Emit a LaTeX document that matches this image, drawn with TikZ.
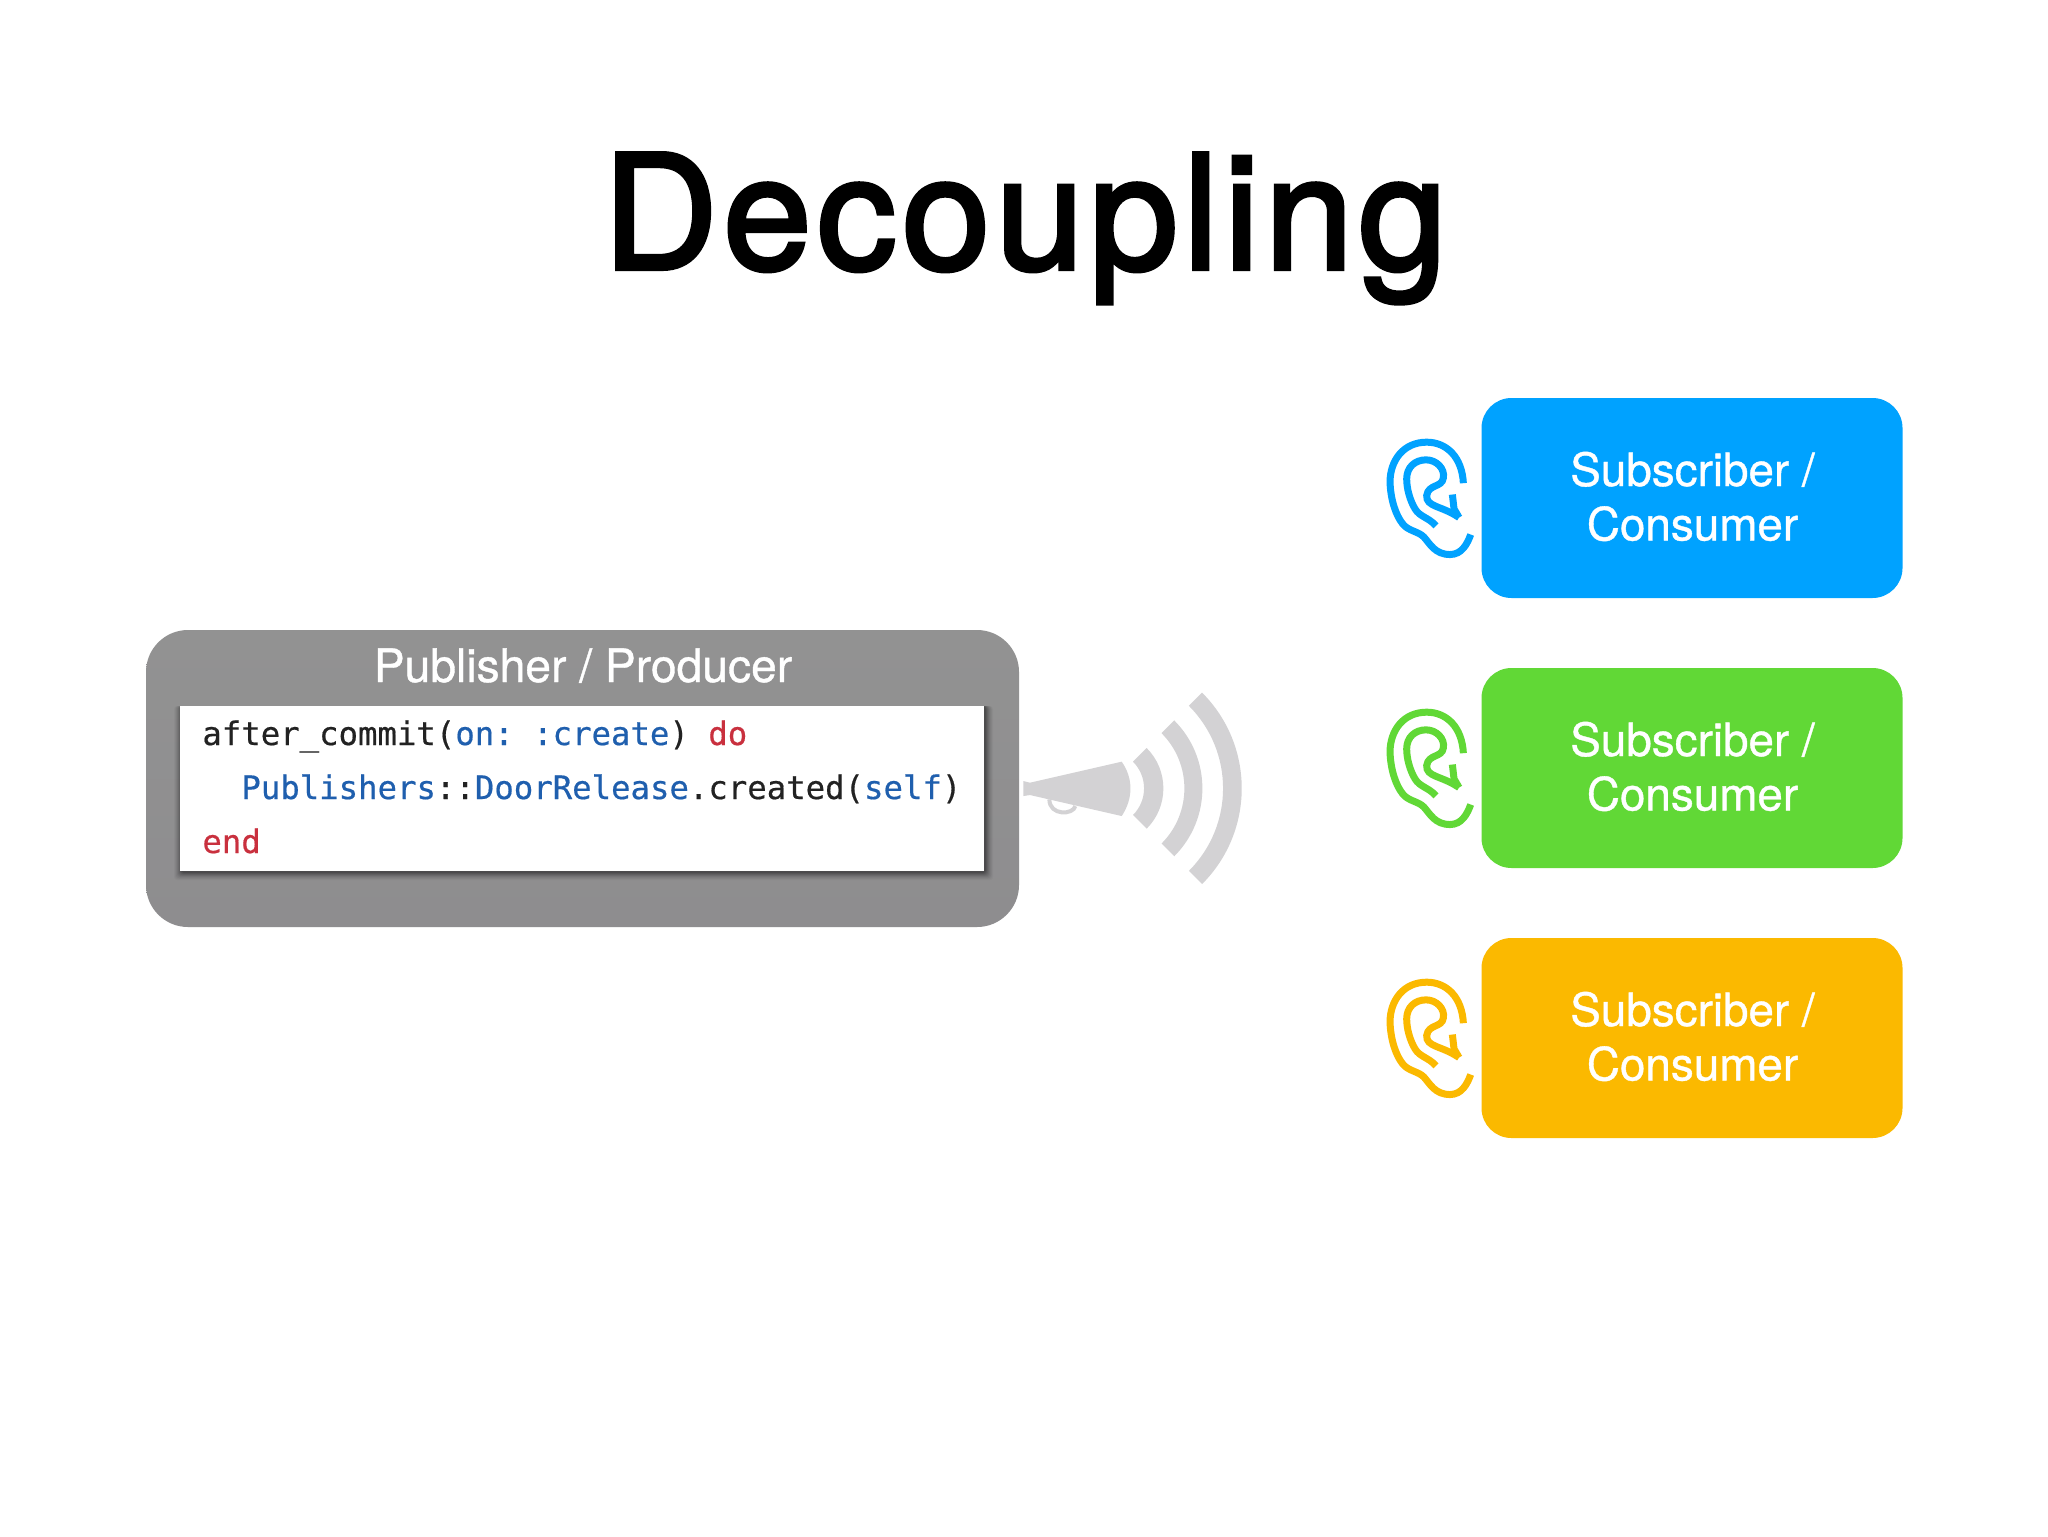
\documentclass[tikz,border=0pt]{standalone}
\usepackage{fontspec}
\setmainfont{TeX Gyre Heros}
\newfontfamily\titlefont[FakeBold=2.6,LetterSpace=3.4]{TeX Gyre Heros}
\newfontfamily\labelfont[FakeBold=0.8]{TeX Gyre Heros}
\newfontfamily\codefont[FakeBold=0.5]{DejaVu Sans Mono}
\definecolor{subblue}{HTML}{00A2FF}
\definecolor{subgreen}{HTML}{61D836}
\definecolor{subyellow}{HTML}{FBB900}
\definecolor{pubtop}{HTML}{929292}
\definecolor{pubbot}{HTML}{8E8D8F}
\definecolor{horn}{HTML}{D3D2D4}
\definecolor{codeblue}{HTML}{1F5FAE}
\definecolor{codered}{HTML}{C9303E}
\definecolor{codeink}{HTML}{222222}
\newcommand{\kw}[1]{\textcolor{codeblue}{#1}}
\newcommand{\rd}[1]{\textcolor{codered}{#1}}
\tikzset{
  x=0.5pt,y=-0.5pt,
  subbox/.style={rounded corners=15pt,inner sep=0pt,minimum width=210.5pt,minimum height=100pt},
  subtext/.style={text=white,font=\labelfont\fontsize{22.9}{27.2}\selectfont,align=center,anchor=center},
  codeline/.style={anchor=base west,inner sep=0pt,text=codeink,font=\codefont\frenchspacing\fontsize{16.16}{19}\selectfont},
  earstroke/.style={line width=3.5pt,line cap=butt,line join=miter},
  hornfill/.style={fill=horn,draw=none},
}
\newcommand{\earicon}[2]{%
  \begin{scope}[shift={(1360,#2)},x=0.1667pt,y=-0.1667pt,earstroke,draw=#1]
    \draw (310,248) .. controls (306,170) and (260,125) .. (200,125)
       .. controls (130,125) and (90,180) .. (90,245)
       .. controls (92,300) and (108,345) .. (128,370)
       .. controls (145,392) and (175,392) .. (192,410)
       .. controls (210,430) and (225,462) .. (270,462)
       .. controls (305,462) and (322,430) .. (332,402);
    \draw (228,376) .. controls (205,350) and (180,350) .. (165,325)
       .. controls (150,300) and (140,265) .. (140,235)
       .. controls (140,200) and (165,178) .. (198,178)
       .. controls (230,178) and (255,205) .. (250,232)
       .. controls (246,262) and (205,250) .. (200,285)
       .. controls (198,320) and (245,315) .. (297,351);
    \draw (277,282) -- (282,325) -- (297,351);
  \end{scope}}
\begin{document}
\begin{tikzpicture}
\useasboundingbox (0,0) rectangle (2048,1536);
\fill[white] (0,0) rectangle (2048,1536);
\node[anchor=base,inner sep=0pt,font=\titlefont\fontsize{79.5}{90}\selectfont] (title) at (1025,269) {Decoupling};

% publisher
\node[top color=pubtop,bottom color=pubbot,rounded corners=21pt,inner sep=0pt,minimum width=436.5pt,minimum height=148.5pt] (pub) at (582.5,778.5) {};
\node[anchor=base,inner sep=0pt,text=white,font=\labelfont\fontsize{23.1}{28}\selectfont] (pubtitle) at (583,682) {Publisher / Producer};
\foreach \o/\a in {8/0.03,7/0.04,6/0.05,5/0.06,4/0.07,3/0.09,2/0.11,1/0.13}
  \fill[black,opacity=\a,rounded corners=1.5pt] (180-\o+2,706) rectangle (984+\o+1,871+\o+1);
\node[fill=white,inner sep=0pt,minimum width=402pt,minimum height=82.5pt] (code) at (582,788.5) {};
\node[codeline] (l1) at (202,745) {after\_commit(\kw{on: :create}) \rd{do}};
\node[codeline] (l2) at (241,799) {\kw{Publishers}::\kw{DoorRelease}.created(\kw{self})};
\node[codeline] (l3) at (202,853) {\rd{end}};

% megaphone
\begin{scope}[shift={(1010,680)},x=0.1667pt,y=-0.1667pt]
  \fill[hornfill] (40,303) -- (60,308) -- (335,245) .. controls (370,295) and (370,355) .. (335,408) -- (60,345) -- (40,348) -- cycle;
  \draw[horn,line width=2pt] (118,358) .. controls (118,408) and (190,405) .. (196,378);
  \foreach \ri/\ro in {113/171,234/288,350/406}
    \fill[hornfill,shift={(289,325)}] (-45:\ri*0.1667pt) arc[start angle=-45,end angle=45,radius=\ri*0.1667pt]
       -- (45:\ro*0.1667pt) arc[start angle=45,end angle=-45,radius=\ro*0.1667pt] -- cycle;
\end{scope}

% subscribers
\node[subbox,fill=subblue] (s1) at (1692,498) {};
\node[subbox,fill=subgreen] (s2) at (1692,768) {};
\node[subbox,fill=subyellow] (s3) at (1692,1038) {};
\node[subtext] (t1) at (1692.5,496.5) {Subscriber /\\Consumer};
\node[subtext] (t2) at (1692.5,766.5) {Subscriber /\\Consumer};
\node[subtext] (t3) at (1692.5,1036.5) {Subscriber /\\Consumer};
\earicon{subblue}{400.5}
\earicon{subgreen}{670.5}
\earicon{subyellow}{940.5}
\end{tikzpicture}
\end{document}
